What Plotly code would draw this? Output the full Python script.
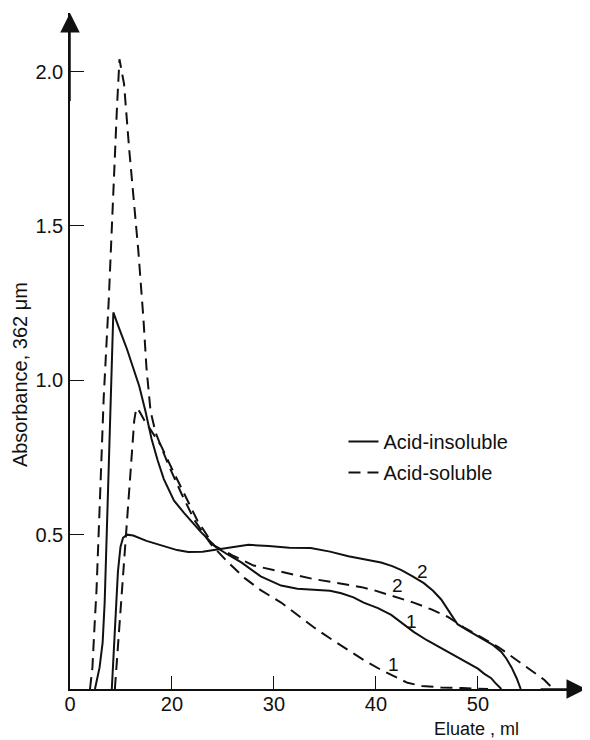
import plotly.graph_objects as go

# ---- data ----
ins1_x = [12.45, 12.9, 13.2, 13.4, 13.6, 13.85, 14.05, 14.25, 14.8, 15.6, 16.2, 16.8, 17.4, 18.0, 18.6,
          19.2, 20.2, 21.2, 22.8, 24.3, 25.5, 26.8, 28.7, 30.7, 32.3, 33.9, 35.5, 36.6, 37.8, 38.8,
          40.2, 41.5, 42.6, 43.7, 45.0, 46.4, 47.8, 49.0, 50.0, 50.6, 51.3, 51.7, 52.3]
ins1_y = [0, 0.07, 0.15, 0.28, 0.5, 0.75, 0.95, 1.22, 1.17, 1.1, 1.04, 0.98, 0.9, 0.81, 0.74,
          0.68, 0.61, 0.57, 0.51, 0.46, 0.435, 0.41, 0.365, 0.335, 0.325, 0.322, 0.318, 0.31, 0.297, 0.28,
          0.262, 0.24, 0.212, 0.185, 0.158, 0.133, 0.108, 0.084, 0.066, 0.05, 0.035, 0.02, 0]

ins2_x = [14.1, 14.4, 14.7, 14.95, 15.2, 15.6, 16.2, 17.5, 18.9, 20.5, 21.6, 23.0, 24.1, 26.0, 27.5,
          29.5, 31.5, 33.6, 35.5, 37.3, 39.0, 40.5, 41.6, 42.5, 43.6, 44.7, 45.6, 46.4, 47.2, 48.0,
          49.0, 50.3, 51.5, 52.3, 52.8, 53.3, 53.8, 54.2]
ins2_y = [0, 0.18, 0.38, 0.46, 0.49, 0.5, 0.497, 0.48, 0.466, 0.45, 0.444, 0.445, 0.45, 0.46, 0.467,
          0.463, 0.458, 0.457, 0.445, 0.43, 0.42, 0.41, 0.398, 0.385, 0.365, 0.343, 0.318, 0.29, 0.25, 0.21,
          0.19, 0.165, 0.142, 0.12, 0.098, 0.07, 0.035, 0]

sol1_x = [11.96, 12.2, 12.4, 12.6, 13.0, 13.3, 13.8, 14.2, 14.6, 14.85, 15.3, 15.8, 16.3, 16.7, 17.2,
          17.5, 17.9, 18.4, 19.0, 19.6, 20.9, 22.2, 23.8, 25.5, 27.1, 28.7, 30.7, 32.3, 33.9, 35.6,
          37.3, 38.9, 40.5, 41.8, 43.1, 44.5, 46.4, 48.5, 50.0, 51.0]
sol1_y = [0, 0.07, 0.2, 0.32, 0.67, 0.94, 1.26, 1.58, 1.88, 2.04, 1.96, 1.75, 1.58, 1.42, 1.2,
          1.04, 0.9, 0.83, 0.78, 0.73, 0.635, 0.547, 0.47, 0.41, 0.36, 0.32, 0.28, 0.24, 0.2, 0.162,
          0.126, 0.092, 0.062, 0.04, 0.02, 0.01, 0.005, 0.003, 0.001, 0]

sol2_x = [14.4, 15.0, 15.6, 16.1, 16.3, 16.5, 16.8, 17.3, 17.9, 18.9, 19.9, 21.2, 22.5, 24.1, 26.1,
          28.0, 30.7, 32.4, 33.9, 35.6, 37.3, 38.6, 39.8, 41.8, 43.7, 45.5, 47.1, 48.6, 50.3, 52.0,
          53.2, 54.2, 55.4, 56.5, 57.4]
sol2_y = [0, 0.27, 0.55, 0.78, 0.87, 0.91, 0.9, 0.87, 0.84, 0.79, 0.72, 0.63, 0.545, 0.465, 0.43,
          0.40, 0.38, 0.365, 0.356, 0.347, 0.337, 0.33, 0.32, 0.30, 0.28, 0.257, 0.233, 0.2, 0.168, 0.136,
          0.108, 0.084, 0.055, 0.03, 0]

tick_vals_x = [10, 20, 30, 40, 50]
tick_text_x = ["0", "20", "30", "40", "50"]
tick_vals_y = [0.5, 1.0, 1.5, 2.0]
tick_text_y = ["0.5", "1.0", "1.5", "2.0"]

curve_labels = [  # (text, x, y)
    ("2", 44.6, 0.38),
    ("2", 42.1, 0.335),
    ("1", 43.5, 0.22),
    ("1", 41.7, 0.08),
]

FONT = "Liberation Sans, Arial, sans-serif"
BLACK = "#111111"
DASH = "12px,7px"

fig = go.Figure()
fig.add_trace(go.Scatter(x=ins1_x, y=ins1_y, mode="lines", name="Acid-insoluble",
                         legendgroup="ins", line=dict(color=BLACK, width=2)))
fig.add_trace(go.Scatter(x=ins2_x, y=ins2_y, mode="lines", name="Acid-insoluble",
                         legendgroup="ins", showlegend=False, line=dict(color=BLACK, width=2)))
fig.add_trace(go.Scatter(x=sol1_x, y=sol1_y, mode="lines", name="Acid-soluble",
                         legendgroup="sol", line=dict(color=BLACK, width=2, dash=DASH)))
fig.add_trace(go.Scatter(x=sol2_x, y=sol2_y, mode="lines", name="Acid-soluble",
                         legendgroup="sol", showlegend=False,
                         line=dict(color=BLACK, width=2, dash=DASH)))

annotations = []
for txt, lx, ly in curve_labels:
    annotations.append(dict(text=txt, x=lx, y=ly, xref="x", yref="y", showarrow=False,
                            font=dict(family=FONT, size=19, color=BLACK)))
# axis titles
annotations.append(dict(text="Eluate , ml", x=49.9, y=-0.059, xref="x", yref="paper",
                        showarrow=False, xanchor="center", yanchor="middle",
                        font=dict(family=FONT, size=18, color=BLACK)))
annotations.append(dict(text="Absorbance, 362 \u03bcm", x=-0.097, y=1.02, xref="paper", yref="y",
                        showarrow=False, textangle=-90, xanchor="center", yanchor="middle",
                        font=dict(family=FONT, size=20, color=BLACK)))
# axis arrows
annotations.append(dict(x=10, y=2.19, ax=10, ay=1.9, xref="x", yref="y", axref="x", ayref="y",
                        showarrow=True, arrowhead=2, arrowsize=2.6, arrowwidth=1.5,
                        arrowcolor=BLACK, text=""))
annotations.append(dict(x=60.6, y=0, ax=56.0, ay=0, xref="x", yref="y", axref="x", ayref="y",
                        showarrow=True, arrowhead=2, arrowsize=2.6, arrowwidth=1.5,
                        arrowcolor=BLACK, text=""))

fig.update_layout(
    width=582, height=732,
    margin=dict(l=62, r=4, t=5, b=51),
    paper_bgcolor="white", plot_bgcolor="white",
    font=dict(family=FONT, size=20, color=BLACK),
    showlegend=True,
    legend=dict(x=0.53, y=0.395, xanchor="left", yanchor="top", bgcolor="rgba(0,0,0,0)",
                font=dict(family=FONT, size=20, color=BLACK), tracegroupgap=2),
    annotations=annotations,
    xaxis=dict(range=[10, 60.6], tickvals=tick_vals_x, ticktext=tick_text_x,
               ticks="inside", ticklen=13, tickwidth=1, tickcolor=BLACK,
               showline=True, linecolor=BLACK, linewidth=1.5, showgrid=False, zeroline=False,
               ticklabelstandoff=-4,
               tickfont=dict(family=FONT, size=20, color=BLACK)),
    yaxis=dict(range=[0, 2.19], tickvals=tick_vals_y, ticktext=tick_text_y,
               ticks="inside", ticklen=14, tickwidth=1, tickcolor=BLACK,
               showline=True, linecolor=BLACK, linewidth=1.5, showgrid=False, zeroline=False,
               ticklabelstandoff=1,
               tickfont=dict(family=FONT, size=20, color=BLACK)),
)

fig.write_html("out.html")
